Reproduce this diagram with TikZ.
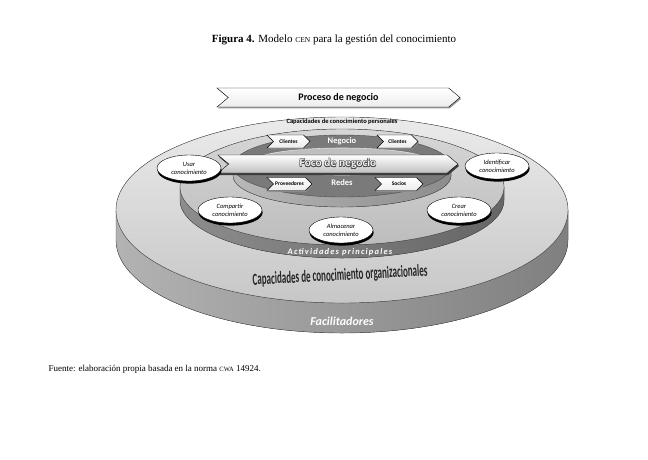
\documentclass[tikz,border=0pt]{standalone}
\usepackage{fontspec}
\setmainfont{Liberation Serif}
\newfontfamily\diagfont{Carlito}
\usepackage[copies]{contour}
\contourlength{0.3pt}
\usetikzlibrary{shapes.symbols,shapes.geometric,shadows}

\begin{document}
\begin{tikzpicture}[x=1pt, y=-1pt,
        chevron/.style={shape=signal, signal to=east, signal from=west, draw=black, line width=0.4pt,
            top color=white, bottom color=gray!15, inner sep=0pt, minimum height=13pt,
            font=\diagfont\bfseries\fontsize{5.5}{6}\selectfont,
            drop shadow={shadow xshift=1pt, shadow yshift=-1.4pt, fill=gray!90, opacity=0.9}},
        actividad/.style={ellipse, draw=black, line width=0.4pt, fill=white, inner sep=0pt,
            minimum width=64pt, minimum height=26pt, align=center,
            font=\diagfont\itshape\fontsize{6.5}{8}\selectfont,
            drop shadow={shadow xshift=0.6pt, shadow yshift=-2.6pt, fill=black, opacity=1}},
        banda/.style={text=white, font=\diagfont\bfseries\fontsize{8.5}{10}\selectfont}]
    \useasboundingbox (0,0) rectangle (648,459);

    % titulo y fuente
    \node[font=\fontsize{11}{13}\selectfont] (titulo) at (334,40)
        {\textbf{Figura 4.} Modelo {\fontsize{7.5}{9}\selectfont CEN} para la gestión del conocimiento};
    \node[anchor=west, font=\fontsize{9}{11}\selectfont] (fuente) at (45,369)
        {Fuente: elaboración propia basada en la norma {\fontsize{6.5}{8}\selectfont CWA} 14924.};

    % disco exterior (facilitadores)
    \filldraw[left color=black!30, right color=black!50, draw=black!70, line width=0.4pt]
        (116,210) -- (116,240) arc[start angle=180, end angle=0, x radius=226, y radius=93] -- (568,210) -- cycle;
    \filldraw[top color=black!8, bottom color=black!22, draw=black!70, line width=0.4pt]
        (342,210) ellipse [x radius=226, y radius=93];

    % disco medio (actividades principales)
    \filldraw[left color=black!45, right color=black!60, draw=black!70, line width=0.4pt]
        (180,187) -- (180,200) arc[start angle=180, end angle=0, x radius=162, y radius=58] -- (504,187) -- cycle;
    \filldraw[top color=black!16, bottom color=black!26, draw=black!70, line width=0.4pt]
        (342,187) ellipse [x radius=162, y radius=58];

    % disco interior (negocio y redes)
    \filldraw[left color=black!28, right color=black!45, draw=black!70, line width=0.4pt]
        (233,166) -- (233,176) arc[start angle=180, end angle=0, x radius=109, y radius=31] -- (451,166) -- cycle;
    \filldraw[fill=black!52, draw=black!70, line width=0.4pt]
        (342,166) ellipse [x radius=109, y radius=31];
    \filldraw[fill=black!25, draw=black!12, line width=0.6pt]
        (342,161.5) ellipse [x radius=88, y radius=13.5];

    % textos de los discos
    \node[font=\diagfont\bfseries\fontsize{6.5}{7}\selectfont] (personales) at (342,122)
        {Capacidades de conocimiento personales};
    \node[text=white, font=\diagfont\bfseries\itshape\fontsize{8.5}{10}\selectfont\addfontfeatures{LetterSpace=14}]
        (principales) at (340,252) {Actividades principales};
    \node[text=black!85, rotate=3, font=\diagfont\bfseries\fontsize{17}{19}\selectfont] (organizacionales) at (340,276)
        {\scalebox{0.53}[1]{Capacidades de conocimiento organizacionales}};
    \node[text=white, font=\diagfont\bfseries\itshape\fontsize{12}{14}\selectfont] (facilitadores) at (342,321)
        {Facilitadores};
    \node[banda] (negocio) at (342,141) {Negocio};
    \node[banda] (redes) at (342,182.5) {Redes};

    % flechas
    \node[chevron, minimum width=243pt, minimum height=19pt, signal pointer angle=80,
        font=\diagfont\bfseries\fontsize{10}{12}\selectfont] (proceso) at (338.5,97.5) {Proceso de negocio};
    \node[chevron, minimum width=43pt] (clientesA) at (288.5,141.5) {Clientes};
    \node[chevron, minimum width=41pt] (clientesB) at (397.5,141.5) {Clientes};
    \node[chevron, minimum width=45pt] (proveedores) at (289.5,184) {Proveedores};
    \node[chevron, minimum width=48pt] (socios) at (399,184) {Socios};
    \node[chevron, minimum width=240pt, minimum height=18pt, signal pointer angle=80,
        top color=white, bottom color=gray!50,
        drop shadow={shadow xshift=1pt, shadow yshift=-2pt, fill=black!80, opacity=0.9},
        font=\diagfont\bfseries\fontsize{11.5}{13}\selectfont] (foco) at (338,164)
        {{\color{gray!10}\contour{black!70}{Foco de negocio}}};

    % actividades
    \node[actividad] (usar) at (189,168) {Usar\\conocimiento};
    \node[actividad] (identificar) at (497,166) {Identificar\\conocimiento};
    \node[actividad] (compartir) at (230,210) {Compartir\\conocimiento};
    \node[actividad] (almacenar) at (341,230) {Almacenar\\conocimiento};
    \node[actividad] (crear) at (459,210) {Crear\\conocimiento};
\end{tikzpicture}
\end{document}
